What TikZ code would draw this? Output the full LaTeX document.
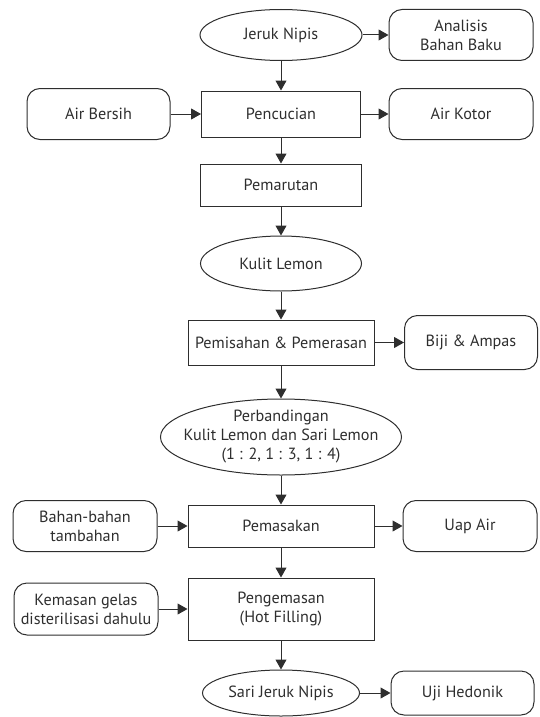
\documentclass[tikz,border=0pt]{standalone}
\usepackage{fontspec}
\setmainfont{PT Sans}
\usetikzlibrary{shapes.geometric,arrows.meta}
\definecolor{ink}{HTML}{2E2E2E}
\begin{document}
\begin{tikzpicture}[x=1pt,y=-1pt,
  every node/.style={font=\fontsize{16.2}{19}\selectfont, text=ink, align=center, inner sep=0pt},
  procbox/.style={draw=ink, line width=1pt, rectangle},
  sidebox/.style={draw=ink, line width=1pt, rectangle, rounded corners=13pt},
  ovalbox/.style={draw=ink, line width=1pt, ellipse},
  flow/.style={draw=ink, line width=1pt, -{Triangle[length=10pt,width=11pt]}}]
\useasboundingbox (0,0) rectangle (539,717);
\node[ovalbox, minimum width=162pt, minimum height=51pt] (jn) at (281,35) {Jeruk Nipis};
\node[sidebox, minimum width=144pt, minimum height=51pt] (ana) at (461,35) {Analisis\\Bahan Baku};
\node[procbox, minimum width=159pt, minimum height=46pt] (cuci) at (281,114) {Pencucian};
\node[sidebox, minimum width=143pt, minimum height=51pt] (ab) at (98.5,114) {Air Bersih};
\node[sidebox, minimum width=144pt, minimum height=51pt] (ak) at (461,114) {Air Kotor};
\node[procbox, minimum width=161pt, minimum height=42pt] (parut) at (281,185) {Pemarutan};
\node[ovalbox, minimum width=161pt, minimum height=55pt] (kl) at (281,263.5) {Kulit Lemon};
\node[procbox, minimum width=186pt, minimum height=45pt] (pisah) at (281,342.5) {Pemisahan \& Pemerasan};
\node[sidebox, minimum width=133pt, minimum height=54pt] (biji) at (471,342.5) {Biji \& Ampas};
\node[ovalbox, inner xsep=-25pt, minimum width=241pt, minimum height=76pt] (banding) at (281,437) {Perbandingan\\Kulit Lemon dan Sari Lemon\\(1 : 2, 1 : 3, 1 : 4)};
\node[procbox, minimum width=186pt, minimum height=42pt] (masak) at (281,526) {Pemasakan};
\node[sidebox, minimum width=144pt, minimum height=51pt] (bahan) at (85,526) {Bahan-bahan\\tambahan};
\node[sidebox, minimum width=134pt, minimum height=51pt] (uap) at (470,526) {Uap Air};
\node[procbox, minimum width=186pt, minimum height=62pt] (kemas) at (281,609) {Pengemasan\\(Hot Filling)};
\node[sidebox, minimum width=144pt, minimum height=52pt] (kg) at (86,609) {Kemasan gelas\\disterilisasi dahulu};
\node[ovalbox, inner xsep=-5pt, minimum width=157pt, minimum height=46pt] (sari) at (281,693) {Sari Jeruk Nipis};
\node[sidebox, minimum width=143pt, minimum height=44pt] (uji) at (462.5,693) {Uji Hedonik};
\draw[flow] (jn) -- (ana);
\draw[flow] (jn) -- (cuci);
\draw[flow] (ab) -- (cuci);
\draw[flow] (cuci) -- (ak);
\draw[flow] (cuci) -- (parut);
\draw[flow] (parut) -- (kl);
\draw[flow] (kl) -- (pisah);
\draw[flow] (pisah) -- (biji);
\draw[flow] (pisah) -- (banding);
\draw[flow] (banding) -- (masak);
\draw[flow] (bahan) -- (masak);
\draw[flow] (masak) -- (uap);
\draw[flow] (masak) -- (kemas);
\draw[flow] (kg) -- (kemas);
\draw[flow] (kemas) -- (sari);
\draw[flow] (sari) -- (uji);
\end{tikzpicture}
\end{document}
